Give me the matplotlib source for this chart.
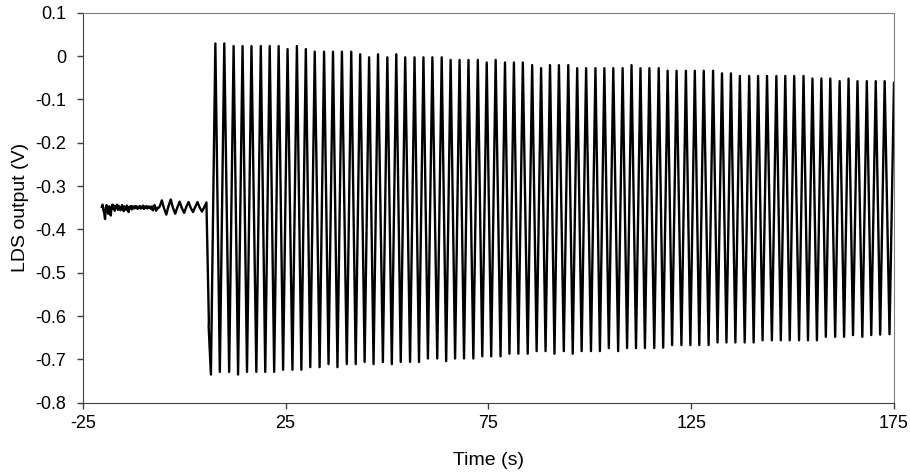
import matplotlib
matplotlib.use("Agg")
import matplotlib.pyplot as plt
import numpy as np

plt.rcParams['font.family'] = ['Liberation Sans', 'DejaVu Sans']
plt.rcParams['axes.unicode_minus'] = False

# pre-trigger signal (noise + small wobble)
pre_t = [-20.3, -20.1, -19.9, -19.7, -19.5, -19.3, -19.1, -18.9, -18.7, -18.5,
         -18.3, -18.1, -17.9, -17.7, -17.5, -17.3, -17.1, -16.9, -16.7, -16.5,
         -16.3, -16.1, -15.9, -15.7, -15.5, -15.3, -15.1, -14.9, -14.7, -14.5,
         -14.3, -14.1, -13.9, -13.7, -13.5, -13.3, -13.1, -12.9, -12.7, -12.5,
         -12.3, -12.1, -11.9, -11.7, -11.5, -11.3, -11.1, -10.9, -10.7, -10.5,
         -10.3, -10.1, -9.9, -9.7, -9.5, -9.3, -9.1, -8.9, -8.7, -8.5,
         -8.3, -8.1, -7.9, -7.7, -7.5, -7.3, -7.1, -6.9, -6.7, -6.5,
         -6.0, -5.5, -5.0, -4.4, -3.9, -3.3, -2.8, -2.2, -1.7, -1.1,
         -0.6, 0.0, 0.5, 1.1, 1.6, 2.2, 2.7, 3.3, 3.8, 4.4, 4.9, 5.5,
         6.1, 6.05]
pre_v = [-0.348, -0.343, -0.356, -0.362, -0.376, -0.350, -0.344, -0.356, -0.364, -0.347,
         -0.352, -0.368, -0.349, -0.343, -0.353, -0.345, -0.357, -0.347, -0.350, -0.343,
         -0.355, -0.346, -0.349, -0.356, -0.352, -0.344, -0.351, -0.358, -0.347, -0.350,
         -0.355, -0.345, -0.351, -0.360, -0.348, -0.351, -0.346, -0.354, -0.347, -0.349,
         -0.352, -0.346, -0.350, -0.347, -0.353, -0.348, -0.351, -0.346, -0.352, -0.348,
         -0.350, -0.345, -0.353, -0.348, -0.350, -0.346, -0.352, -0.349, -0.347, -0.351,
         -0.348, -0.353, -0.347, -0.356, -0.349, -0.344, -0.351, -0.357, -0.350, -0.352,
         -0.347, -0.333, -0.350, -0.366, -0.348, -0.331, -0.349, -0.364, -0.350, -0.336,
         -0.350, -0.362, -0.349, -0.337, -0.350, -0.360, -0.349, -0.337, -0.349, -0.359, -0.350, -0.338,
         -0.612, -0.625]

# oscillation: trough and peak of every cycle
trough_t = [6.6, 8.8, 11.1, 13.3, 15.5, 17.8, 20.0, 22.2, 24.4, 26.7,
            28.9, 31.1, 33.4, 35.6, 37.8, 40.1, 42.3, 44.5, 46.7, 49.0,
            51.2, 53.4, 55.7, 57.9, 60.1, 62.4, 64.6, 66.8, 69.0, 71.3,
            73.5, 75.7, 78.0, 80.2, 82.4, 84.7, 86.9, 89.1, 91.3, 93.6,
            95.8, 98.0, 100.3, 102.5, 104.7, 107.0, 109.2, 111.4, 113.6, 115.9,
            118.1, 120.3, 122.6, 124.8, 127.0, 129.3, 131.5, 133.7, 135.9, 138.2,
            140.4, 142.6, 144.9, 147.1, 149.3, 151.6, 153.8, 156.0, 158.2, 160.5,
            162.7, 164.9, 167.2, 169.4, 171.6, 173.9]
trough_v = [-0.735, -0.729, -0.729, -0.735, -0.729, -0.729, -0.729, -0.729, -0.724, -0.724,
            -0.724, -0.718, -0.718, -0.711, -0.718, -0.711, -0.711, -0.706, -0.711, -0.706,
            -0.711, -0.706, -0.706, -0.706, -0.698, -0.698, -0.704, -0.698, -0.698, -0.698,
            -0.693, -0.693, -0.693, -0.687, -0.687, -0.687, -0.681, -0.681, -0.687, -0.681,
            -0.687, -0.681, -0.681, -0.681, -0.674, -0.681, -0.674, -0.674, -0.674, -0.674,
            -0.673, -0.667, -0.667, -0.667, -0.667, -0.667, -0.661, -0.661, -0.661, -0.661,
            -0.661, -0.656, -0.656, -0.656, -0.656, -0.656, -0.656, -0.656, -0.648, -0.648,
            -0.648, -0.644, -0.648, -0.644, -0.643, -0.642]
peak_t = [7.7, 9.9, 12.2, 14.4, 16.6, 18.9, 21.1, 23.3, 25.5, 27.8,
          30.0, 32.2, 34.5, 36.7, 38.9, 41.2, 43.4, 45.6, 47.8, 50.1,
          52.3, 54.5, 56.8, 59.0, 61.2, 63.5, 65.7, 67.9, 70.1, 72.4,
          74.6, 76.8, 79.1, 81.3, 83.5, 85.8, 88.0, 90.2, 92.4, 94.7,
          96.9, 99.1, 101.4, 103.6, 105.8, 108.1, 110.3, 112.5, 114.7, 117.0,
          119.2, 121.4, 123.7, 125.9, 128.1, 130.4, 132.6, 134.8, 137.0, 139.3,
          141.5, 143.7, 146.0, 148.2, 150.4, 152.7, 154.9, 157.1, 159.3, 161.6,
          163.8, 166.0, 168.3, 170.5, 172.7, 175.0]
peak_v = [0.029, 0.029, 0.023, 0.023, 0.023, 0.023, 0.023, 0.023, 0.016, 0.023,
          0.016, 0.010, 0.010, 0.010, 0.010, 0.010, 0.004, -0.003, 0.004, -0.003,
          0.004, -0.003, -0.003, -0.003, -0.003, -0.003, -0.009, -0.009, -0.009, -0.009,
          -0.015, -0.009, -0.015, -0.015, -0.015, -0.021, -0.028, -0.021, -0.021, -0.021,
          -0.028, -0.028, -0.028, -0.028, -0.028, -0.028, -0.021, -0.028, -0.028, -0.028,
          -0.034, -0.034, -0.034, -0.034, -0.034, -0.034, -0.040, -0.040, -0.046, -0.046,
          -0.046, -0.046, -0.046, -0.046, -0.046, -0.046, -0.052, -0.052, -0.052, -0.058,
          -0.052, -0.058, -0.058, -0.058, -0.058, -0.062]

x_ticks = [-25, 25, 75, 125, 175]
y_ticks = [0.1, 0, -0.1, -0.2, -0.3, -0.4, -0.5, -0.6, -0.7, -0.8]

# build the full trace: pre-trigger then trough/peak alternation
osc_t = np.column_stack([trough_t, peak_t]).ravel()
osc_v = np.column_stack([trough_v, peak_v]).ravel()
t = np.concatenate([pre_t, osc_t])
v = np.concatenate([pre_v, osc_v])

fig = plt.figure(figsize=(9.1, 4.73), dpi=100)
ax = fig.add_axes([0.0909, 0.1486, 0.8915, 0.8246])

ax.plot(t, v, color='black', lw=1.7, solid_joinstyle='round')

ax.set_xlim(-25, 175)
ax.set_ylim(-0.8, 0.1)
ax.set_xticks(x_ticks)
ax.set_xticklabels([str(x) for x in x_ticks])
ax.set_yticks(y_ticks)
ax.set_yticklabels(['%g' % y for y in y_ticks])

for s in ['top', 'right']:
    ax.spines[s].set_color('#808080')
for s in ['left', 'bottom']:
    ax.spines[s].set_color('#404040')
ax.tick_params(direction='out', length=4, width=1, colors='#404040',
               labelcolor='black', labelsize=13, pad=5)
ax.tick_params(axis='y', pad=8)

ax.set_xlabel('Time (s)', fontsize=14, labelpad=14)
ax.set_ylabel('LDS output (V)', fontsize=14, labelpad=4)

fig.savefig('out.png', dpi=100)
